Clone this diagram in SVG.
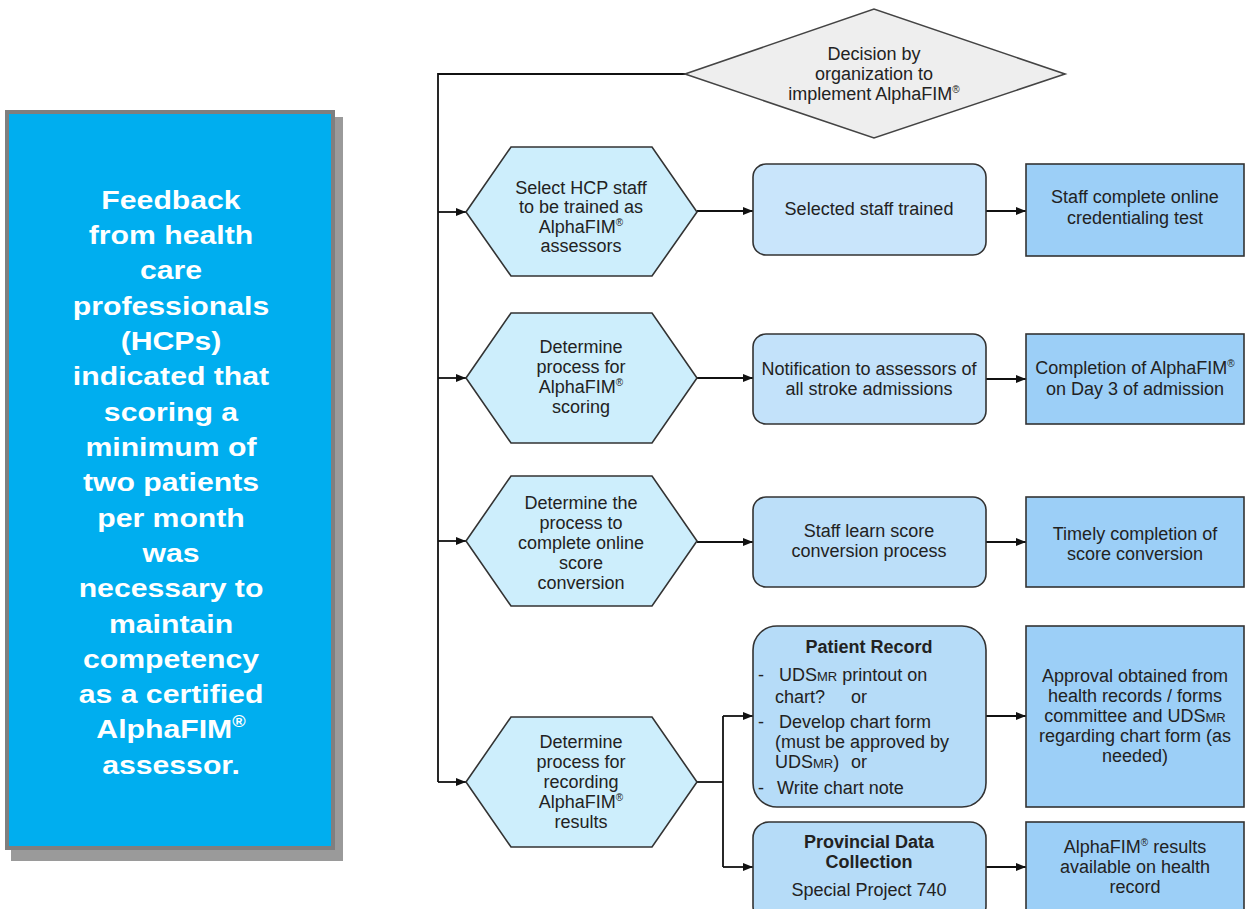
<svg xmlns="http://www.w3.org/2000/svg" width="1246" height="909" viewBox="0 0 1246 909">
<defs>
<marker id="arr" markerUnits="userSpaceOnUse" markerWidth="11" markerHeight="9" refX="10" refY="4" orient="auto">
<path d="M0,0 L10,4 L0,8 Z" fill="#111"/>
</marker>
<style>
.t{font-family:"Liberation Sans",Arial,sans-serif;font-size:18px;fill:#222;text-anchor:middle}
.tl{font-family:"Liberation Sans",Arial,sans-serif;font-size:18px;fill:#222}
.b{font-weight:bold}
.sup{font-size:10px}
.sc{font-size:13px}
.hex{fill:#CDEEFC;stroke:#333;stroke-width:1.6}
.rr{stroke:#333;stroke-width:1.6}
.rect{fill:#9CCFF7;stroke:#333;stroke-width:1.6}
.dia{fill:#EEEEEE;stroke:#444;stroke-width:1.6}
.con{fill:none;stroke:#111;stroke-width:1.8}
.side{font-family:"Liberation Sans",Arial,sans-serif;font-size:26.5px;font-weight:bold;fill:#fff;text-anchor:middle}
</style>
</defs>
<rect width="1246" height="909" fill="#fff"/>

<g id="feedback">
<rect x="11" y="117" width="332" height="744" fill="#9a9a9a"/>
<rect x="5" y="110" width="330" height="740" fill="#7f7f7f"/>
<rect x="9" y="114" width="322" height="732" fill="#00AEEF"/>
<g transform="translate(171,0) scale(1.14,1)">
<text class="side" x="0" y="209">Feedback</text>
<text class="side" x="0" y="244">from health</text>
<text class="side" x="0" y="279">care</text>
<text class="side" x="0" y="315">professionals</text>
<text class="side" x="0" y="350">(HCPs)</text>
<text class="side" x="0" y="385">indicated that</text>
<text class="side" x="0" y="421">scoring a</text>
<text class="side" x="0" y="456">minimum of</text>
<text class="side" x="0" y="491">two patients</text>
<text class="side" x="0" y="527">per month</text>
<text class="side" x="0" y="562">was</text>
<text class="side" x="0" y="597">necessary to</text>
<text class="side" x="0" y="633">maintain</text>
<text class="side" x="0" y="668">competency</text>
<text class="side" x="0" y="703">as a certified</text>
<text class="side" x="0" y="738">AlphaFIM<tspan font-size="16" dy="-11">®</tspan></text>
<text class="side" x="0" y="774">assessor.</text>
</g>
</g>

<g id="connectors">
<polyline class="con" points="685,74 438,74 438,782"/>
<line class="con" x1="438" y1="212" x2="466" y2="212" marker-end="url(#arr)"/>
<line class="con" x1="438" y1="378" x2="466" y2="378" marker-end="url(#arr)"/>
<line class="con" x1="438" y1="541" x2="466" y2="541" marker-end="url(#arr)"/>
<line class="con" x1="438" y1="782" x2="466" y2="782" marker-end="url(#arr)"/>
<line class="con" x1="697" y1="211" x2="753" y2="211" marker-end="url(#arr)"/>
<line class="con" x1="697" y1="378" x2="753" y2="378" marker-end="url(#arr)"/>
<line class="con" x1="697" y1="542" x2="753" y2="542" marker-end="url(#arr)"/>
<line class="con" x1="986" y1="211" x2="1026" y2="211" marker-end="url(#arr)"/>
<line class="con" x1="986" y1="379" x2="1026" y2="379" marker-end="url(#arr)"/>
<line class="con" x1="986" y1="542" x2="1026" y2="542" marker-end="url(#arr)"/>
<polyline class="con" points="697,782 723,782"/>
<polyline class="con" points="723,716 723,867"/>
<line class="con" x1="723" y1="716" x2="753" y2="716" marker-end="url(#arr)"/>
<line class="con" x1="723" y1="867" x2="753" y2="867" marker-end="url(#arr)"/>
<line class="con" x1="986" y1="716" x2="1026" y2="716" marker-end="url(#arr)"/>
<line class="con" x1="986" y1="867" x2="1026" y2="867" marker-end="url(#arr)"/>
</g>

<g id="decision">
<polygon class="dia" points="685,74 874,9 1065,74 874,138"/>
<text class="t" x="874" y="60">Decision by</text>
<text class="t" x="874" y="80">organization to</text>
<text class="t" x="874" y="100">implement AlphaFIM<tspan class="sup" dy="-7">®</tspan></text>
</g>

<g id="hex1">
<polygon class="hex" points="466,212 511,147 652,147 697,212 652,276 511,276"/>
<text class="t" x="581" y="194">Select HCP staff</text>
<text class="t" x="581" y="213">to be trained as</text>
<text class="t" x="581" y="233">AlphaFIM<tspan class="sup" dy="-7">®</tspan></text>
<text class="t" x="581" y="252">assessors</text>
</g>
<g id="trained">
<rect class="rr" x="753" y="164" width="233" height="91" rx="13" fill="#C9E5FB"/>
<text class="t" x="869" y="215">Selected staff trained</text>
</g>
<g id="credential">
<rect class="rect" x="1026" y="164" width="218" height="92"/>
<text class="t" x="1135" y="203">Staff complete online</text>
<text class="t" x="1135" y="224">credentialing test</text>
</g>

<g id="hex2">
<polygon class="hex" points="466,378 511,313 652,313 697,378 652,443 511,443"/>
<text class="t" x="581" y="353">Determine</text>
<text class="t" x="581" y="373">process for</text>
<text class="t" x="581" y="393">AlphaFIM<tspan class="sup" dy="-7">®</tspan></text>
<text class="t" x="581" y="413">scoring</text>
</g>
<g id="notify">
<rect class="rr" x="753" y="334" width="233" height="90" rx="13" fill="#C3E2FA"/>
<text class="t" x="869" y="375">Notification to assessors of</text>
<text class="t" x="869" y="395">all stroke admissions</text>
</g>
<g id="day3">
<rect class="rect" x="1026" y="334" width="218" height="90"/>
<text class="t" x="1135" y="374">Completion of AlphaFIM<tspan class="sup" dy="-7">®</tspan></text>
<text class="t" x="1135" y="395">on Day 3 of admission</text>
</g>

<g id="hex3">
<polygon class="hex" points="466,541 511,476 652,476 697,541 652,606 511,606"/>
<text class="t" x="581" y="509">Determine the</text>
<text class="t" x="581" y="529">process to</text>
<text class="t" x="581" y="549">complete online</text>
<text class="t" x="581" y="569">score</text>
<text class="t" x="581" y="589">conversion</text>
</g>
<g id="learn">
<rect class="rr" x="753" y="497" width="233" height="90" rx="13" fill="#BCDFF9"/>
<text class="t" x="869" y="537">Staff learn score</text>
<text class="t" x="869" y="557">conversion process</text>
</g>
<g id="timely">
<rect class="rect" x="1026" y="497" width="218" height="90"/>
<text class="t" x="1135" y="540">Timely completion of</text>
<text class="t" x="1135" y="560">score conversion</text>
</g>

<g id="hex4">
<polygon class="hex" points="466,782 511,717 652,717 697,782 652,847 511,847"/>
<text class="t" x="581" y="748">Determine</text>
<text class="t" x="581" y="768">process for</text>
<text class="t" x="581" y="788">recording</text>
<text class="t" x="581" y="808">AlphaFIM<tspan class="sup" dy="-7">®</tspan></text>
<text class="t" x="581" y="828">results</text>
</g>
<g id="patient">
<rect class="rr" x="753" y="626" width="233" height="181" rx="24" fill="#B6DCF8"/>
<text class="t b" x="869" y="653">Patient Record</text>
<text class="tl" x="758" y="681">-</text>
<text class="tl" x="779" y="681">UDS<tspan class="sc">MR</tspan> printout on</text>
<text class="tl" x="775" y="703">chart?</text>
<text class="tl" x="851" y="703">or</text>
<text class="tl" x="758" y="728">-</text>
<text class="tl" x="779" y="728">Develop chart form</text>
<text class="tl" x="775" y="748">(must be approved by</text>
<text class="tl" x="775" y="768">UDS<tspan class="sc">MR</tspan>)</text>
<text class="tl" x="851" y="768">or</text>
<text class="tl" x="758" y="794">-</text>
<text class="tl" x="777" y="794">Write chart note</text>
</g>
<g id="approval">
<rect class="rect" x="1026" y="626" width="218" height="181"/>
<text class="t" x="1135" y="682">Approval obtained from</text>
<text class="t" x="1135" y="702">health records / forms</text>
<text class="t" x="1135" y="722">committee and UDS<tspan class="sc">MR</tspan></text>
<text class="t" x="1135" y="742">regarding chart form (as</text>
<text class="t" x="1135" y="762">needed)</text>
</g>
<g id="provincial">
<rect class="rr" x="753" y="822" width="233" height="100" rx="16" fill="#B6DCF8"/>
<text class="t b" x="869" y="848">Provincial Data</text>
<text class="t b" x="869" y="868">Collection</text>
<text class="t" x="869" y="896">Special Project 740</text>
</g>
<g id="available">
<rect class="rect" x="1026" y="822" width="218" height="100"/>
<text class="t" x="1135" y="853">AlphaFIM<tspan class="sup" dy="-7">®</tspan><tspan dy="7"> results</tspan></text>
<text class="t" x="1135" y="873">available on health</text>
<text class="t" x="1135" y="893">record</text>
</g>
</svg>
